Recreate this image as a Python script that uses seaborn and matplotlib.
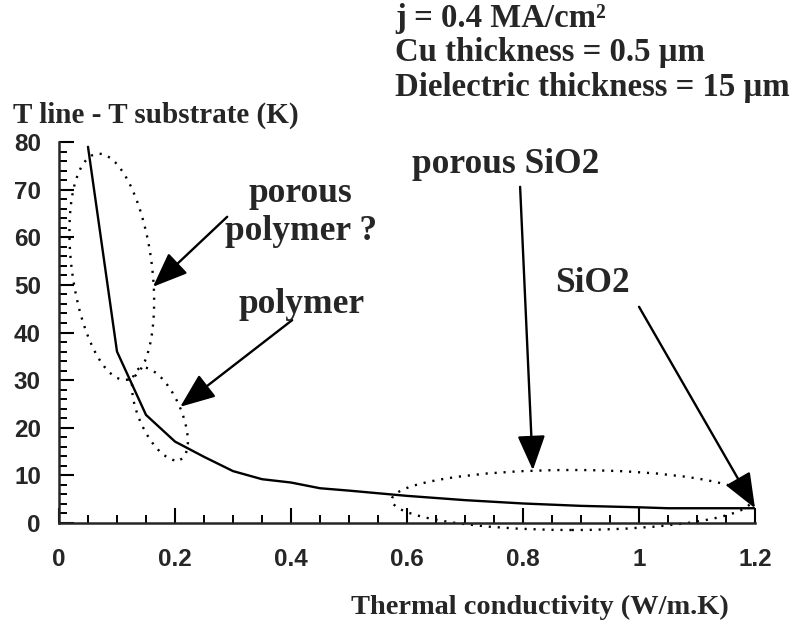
import matplotlib
matplotlib.use("Agg")
import matplotlib.pyplot as plt
import seaborn as sns
import pandas as pd
from matplotlib.patches import Ellipse
from matplotlib.transforms import ScaledTranslation
from matplotlib.ticker import MultipleLocator, FixedLocator

# Line temperature rise versus dielectric thermal conductivity
conductivity = [0.05, 0.10, 0.15, 0.20, 0.25, 0.30, 0.35, 0.40, 0.45, 0.50,
                0.60, 0.70, 0.80, 0.90, 1.00, 1.05, 1.10, 1.20]
temp_rise = [79.0, 36.0, 22.7, 17.1, 13.9, 10.9, 9.2, 8.5, 7.3, 6.8,
             5.7, 4.8, 4.1, 3.6, 3.3, 3.1, 3.1, 3.1]

x_ticks = [0, 0.2, 0.4, 0.6, 0.8, 1.0, 1.2]
x_tick_labels = ["0", "0.2", "0.4", "0.6", "0.8", "1", "1.2"]
y_ticks = [0, 10, 20, 30, 40, 50, 60, 70, 80]
y_tick_labels = ["0", "10", "20", "30", "40", "50", "60", "70", "80"]

conditions = ["j = 0.4 MA/cm²", "Cu thickness = 0.5 µm", "Dielectric thickness = 15 µm"]

sns.set_style("ticks")
plt.rcParams["font.family"] = ["Liberation Serif", "DejaVu Serif"]

fig = plt.figure(figsize=(7.94, 6.21), dpi=100)
ax = fig.add_axes([0.0743, 0.1578, 0.8766, 0.6135])

df = pd.DataFrame({"k": conductivity, "dT": temp_rise})
sns.lineplot(data=df, x="k", y="dT", ax=ax, color="black", lw=1.7)

ax.set_xlim(0, 1.2)
ax.set_ylim(0, 80)
ax.set_xlabel("")
ax.set_ylabel("")
for side in ("top", "right"):
    ax.spines[side].set_visible(False)
for side in ("left", "bottom"):
    ax.spines[side].set_linewidth(1.8)

ax.xaxis.set_major_locator(FixedLocator(x_ticks))
ax.set_xticklabels(x_tick_labels)
ax.xaxis.set_minor_locator(MultipleLocator(0.05))
ax.yaxis.set_major_locator(FixedLocator(y_ticks))
ax.set_yticklabels(y_tick_labels)
ax.yaxis.set_minor_locator(MultipleLocator(2))
ax.tick_params(which="major", direction="in", length=11, width=1.5, color="black")
ax.tick_params(which="minor", direction="in", length=5.5, width=1.4, color="black")
ax.tick_params(axis="x", which="major", pad=18)
ax.tick_params(axis="y", which="major", pad=13)
for lab in ax.get_xticklabels() + ax.get_yticklabels():
    lab.set_fontfamily("Liberation Sans")
    lab.set_fontweight("bold")
    lab.set_fontsize(17.5)

# Dotted outlines around the material groups (size in inches, centre in data)
def outline(cx, cy, w, h, angle):
    tr = fig.dpi_scale_trans + ScaledTranslation(cx, cy, ax.transData)
    e = Ellipse((0, 0), w, h, angle=angle, transform=tr, fill=False,
                edgecolor="black", lw=1.7, linestyle=(0, (0.9, 2.9)), clip_on=False)
    ax.add_patch(e)

outline(0.091, 53.8, 0.80, 2.28, 7.5)
outline(0.174, 22.9, 0.42, 1.00, 24)
outline(0.884, 4.83, 3.60, 0.60, 0)

arrow = dict(arrowstyle="-|>,head_length=0.9,head_width=0.36", lw=1.7,
             color="black", shrinkA=0, shrinkB=0, mutation_scale=24)

def pointer(start, tip):
    ax.annotate("", xy=tip, xytext=start, xycoords="data", textcoords="data",
                arrowprops=arrow, annotation_clip=False)

pointer((0.290, 64.3), (0.162, 49.6))
pointer((0.402, 42.6), (0.209, 24.4))
pointer((0.795, 70.6), (0.817, 11.1))
pointer((1.000, 45.4), (1.200, 3.1))

lab = dict(fontsize=25.5, fontweight="bold", va="baseline", clip_on=False)
ax.text(0.416, 67.4, "porous", ha="center", **lab)
ax.text(0.417, 59.4, "polymer ?", ha="center", **lab)
ax.text(0.418, 44.1, "polymer", ha="center", **lab)
ax.text(0.608, 73.5, "porous SiO2", ha="left", **lab)
ax.text(0.855, 48.5, "SiO2", ha="left", **lab)

# Axis titles
fig.text(13 / 794, 1 - 123 / 621, "T line - T substrate (K)", fontsize=21,
         fontweight="bold", ha="left", va="baseline")
fig.text(540 / 794, 1 - 614 / 621, "Thermal conductivity (W/m.K)", fontsize=20.4,
         fontweight="bold", ha="center", va="baseline")

# Simulation conditions
for i, line in enumerate(conditions):
    fig.text(395 / 794, 1 - (27 + 34.5 * i) / 621, line, fontsize=23.6,
             fontweight="bold", ha="left", va="baseline")

fig.savefig("out.png", dpi=100)
